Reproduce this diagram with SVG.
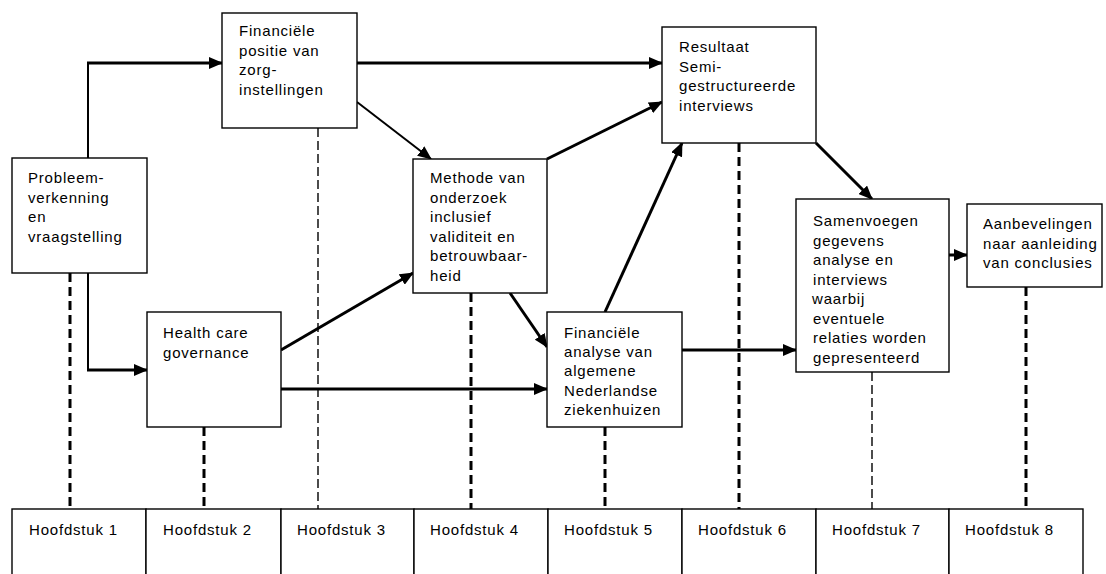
<svg xmlns="http://www.w3.org/2000/svg" width="1106" height="574" viewBox="0 0 1106 574">
<style>
  .box { fill: #fff; stroke: #000; stroke-width: 1.4; }
  .t { font-family: "Liberation Sans", Arial, sans-serif; font-size: 15px; letter-spacing: 0.8px; fill: #000; }
  .a { fill: none; stroke: #000; stroke-width: 3; marker-end: url(#ah); }
  .a2 { fill: none; stroke: #000; stroke-width: 2; }
  .a2m { fill: none; stroke: #000; stroke-width: 2; marker-end: url(#ah); }
  .dk { fill: none; stroke: #000; stroke-width: 3; stroke-dasharray: 9 5; }
  .dt { fill: none; stroke: #000; stroke-width: 1.4; stroke-dasharray: 9 4; }
</style>
<defs>
  <marker id="ah" markerUnits="userSpaceOnUse" markerWidth="14" markerHeight="12" refX="13" refY="6" orient="auto">
    <path d="M0,0 L14,6 L0,12 z" fill="#000"/>
  </marker>
</defs>
<rect width="1106" height="574" fill="#fff"/>

<g id="connectors">
  <!-- chapter dashed lines -->
  <line class="dk" x1="70" y1="273" x2="70" y2="509"/>
  <line class="dk" x1="204" y1="427" x2="204" y2="509"/>
  <line class="dt" x1="318" y1="128" x2="318" y2="509"/>
  <line class="dk" x1="471" y1="293" x2="471" y2="509"/>
  <line class="dk" x1="605" y1="427" x2="605" y2="509"/>
  <line class="dk" x1="739" y1="143" x2="739" y2="509"/>
  <line class="dt" x1="872" y1="372" x2="872" y2="509"/>
  <line class="dk" x1="1026" y1="287" x2="1026" y2="509"/>
  <!-- arrows -->
  <path class="a2" d="M88,158 V63"/>
  <path class="a" d="M87,63 H222"/>
  <path class="a2" d="M88,273 V370"/>
  <path class="a" d="M87,370 H147"/>
  <path class="a" d="M357,63 H662"/>
  <path class="a2m" d="M357,102 L431,159"/>
  <path class="a" d="M547,159 L662,102"/>
  <path class="a" d="M281,350 L413,273"/>
  <path class="a" d="M281,389 H547"/>
  <path class="a" d="M510,293 L547,347"/>
  <path class="a" d="M605,312 L682,143"/>
  <path class="a" d="M682,350 H796"/>
  <path class="a" d="M816,143 L872,199"/>
  <path class="a" d="M949,255 H967"/>
</g>

<g id="n-probleem">
  <rect class="box" x="12" y="158" width="135" height="115"/>
  <text class="t" x="28" y="183">Probleem-<tspan x="28" dy="19.5">verkenning</tspan><tspan x="28" dy="19.5">en</tspan><tspan x="28" dy="19.5">vraagstelling</tspan></text>
</g>
<g id="n-finpositie">
  <rect class="box" x="222" y="13" width="135" height="115"/>
  <text class="t" x="239" y="36">Financiële<tspan x="239" dy="19.5">positie van</tspan><tspan x="239" dy="19.5">zorg-</tspan><tspan x="239" dy="19.5">instellingen</tspan></text>
</g>
<g id="n-health">
  <rect class="box" x="147" y="312" width="134" height="115"/>
  <text class="t" x="163" y="338">Health care<tspan x="163" dy="19.5">governance</tspan></text>
</g>
<g id="n-methode">
  <rect class="box" x="413" y="159" width="134" height="134"/>
  <text class="t" x="430" y="183">Methode van<tspan x="430" dy="19.5">onderzoek</tspan><tspan x="430" dy="19.5">inclusief</tspan><tspan x="430" dy="19.5">validiteit en</tspan><tspan x="430" dy="19.5">betrouwbaar-</tspan><tspan x="430" dy="19.5">heid</tspan></text>
</g>
<g id="n-finanalyse">
  <rect class="box" x="547" y="312" width="135" height="115"/>
  <text class="t" x="564" y="338">Financiële<tspan x="564" dy="19.2">analyse van</tspan><tspan x="564" dy="19.2">algemene</tspan><tspan x="564" dy="19.2">Nederlandse</tspan><tspan x="564" dy="19.2">ziekenhuizen</tspan></text>
</g>
<g id="n-resultaat">
  <rect class="box" x="662" y="27" width="154" height="116"/>
  <text class="t" x="679" y="52">Resultaat<tspan x="679" dy="19.5">Semi-</tspan><tspan x="679" dy="19.5">gestructureerde</tspan><tspan x="679" dy="19.5">interviews</tspan></text>
</g>
<g id="n-samenvoegen">
  <rect class="box" x="796" y="199" width="153" height="173"/>
  <text class="t" x="813" y="226">Samenvoegen<tspan x="813" dy="19.5">gegevens</tspan><tspan x="813" dy="19.5">analyse en</tspan><tspan x="813" dy="19.5">interviews</tspan><tspan x="812" dy="19.5">waarbij</tspan><tspan x="813" dy="19.5">eventuele</tspan><tspan x="813" dy="19.5">relaties worden</tspan><tspan x="813" dy="19.5">gepresenteerd</tspan></text>
</g>
<g id="n-aanbevelingen">
  <rect class="box" x="967" y="204" width="135" height="83"/>
  <text class="t" x="983" y="229">Aanbevelingen<tspan x="983" dy="19.5">naar aanleiding</tspan><tspan x="983" dy="19.5">van conclusies</tspan></text>
</g>

<g id="n-hoofdstukken">
  <rect class="box" x="12" y="509" width="134" height="80"/>
  <rect class="box" x="146" y="509" width="135" height="80"/>
  <rect class="box" x="281" y="509" width="133" height="80"/>
  <rect class="box" x="414" y="509" width="134" height="80"/>
  <rect class="box" x="548" y="509" width="134" height="80"/>
  <rect class="box" x="682" y="509" width="134" height="80"/>
  <rect class="box" x="816" y="509" width="133" height="80"/>
  <rect class="box" x="949" y="509" width="134" height="80"/>
  <text class="t" x="29" y="535">Hoofdstuk 1</text>
  <text class="t" x="163" y="535">Hoofdstuk 2</text>
  <text class="t" x="297" y="535">Hoofdstuk 3</text>
  <text class="t" x="430" y="535">Hoofdstuk 4</text>
  <text class="t" x="564" y="535">Hoofdstuk 5</text>
  <text class="t" x="698" y="535">Hoofdstuk 6</text>
  <text class="t" x="832" y="535">Hoofdstuk 7</text>
  <text class="t" x="965" y="535">Hoofdstuk 8</text>
</g>
</svg>
